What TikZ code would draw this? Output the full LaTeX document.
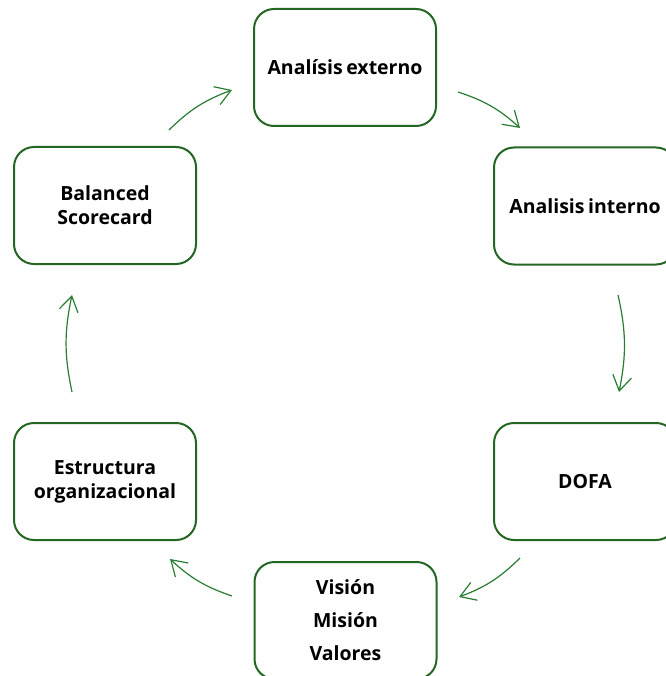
\documentclass[tikz,border=0pt]{standalone}
\usepackage{fontspec}
\setmainfont{Open Sans}
\usetikzlibrary{arrows.meta}
\definecolor{boxgreen}{RGB}{36,102,36}
\definecolor{arrowgreen}{RGB}{40,125,50}
\tikzset{
  etapa/.style={draw=boxgreen, line width=2pt, rounded corners=20pt, fill=white,
    minimum width=182pt, minimum height=117pt, align=center, inner sep=2pt,
    font=\bfseries\fontsize{19.5}{24}\selectfont},
  flecha/.style={draw=arrowgreen, line width=1.2pt, bend left=12,
    -{Straight Barb[length=15pt,width=19pt,line width=1.2pt]}}
}
\begin{document}
\begin{tikzpicture}[x=1pt,y=-1pt]
\useasboundingbox (0,0) rectangle (665,676);
\node[etapa] (ext) at (345,67.5) {Analísis\hspace{-1.5pt} externo};
\node[etapa] (int) at (585,206) {Analisis\hspace{-1.5pt} interno};
\node[etapa] (dofa) at (585,481.5) {DOFA};
\node[etapa] (vmv) at (345.5,620.5) {Visión\\[9pt]Misión\\[9pt]Valores};
\node[etapa] (est) at (105,481.5) {Estructura\\organizacional};
\node[etapa] (bsc) at (105,205.5) {Balanced\\Scorecard};
\coordinate (a1) at (458,92);
\coordinate (b1) at (520,128);
\coordinate (a2) at (618,295);
\coordinate (b2) at (619,392);
\coordinate (a3) at (520,558);
\coordinate (b3) at (459,597);
\coordinate (a4) at (232,596);
\coordinate (b4) at (170,559);
\coordinate (a5) at (72,392);
\coordinate (b5) at (72,295);
\coordinate (a6) at (169,130);
\coordinate (b6) at (232,90);
\draw[flecha] (a1) to (b1);
\draw[flecha] (a2) to (b2);
\draw[flecha] (a3) to (b3);
\draw[flecha] (a4) to (b4);
\draw[flecha] (a5) to (b5);
\draw[flecha] (a6) to (b6);
\end{tikzpicture}
\end{document}
